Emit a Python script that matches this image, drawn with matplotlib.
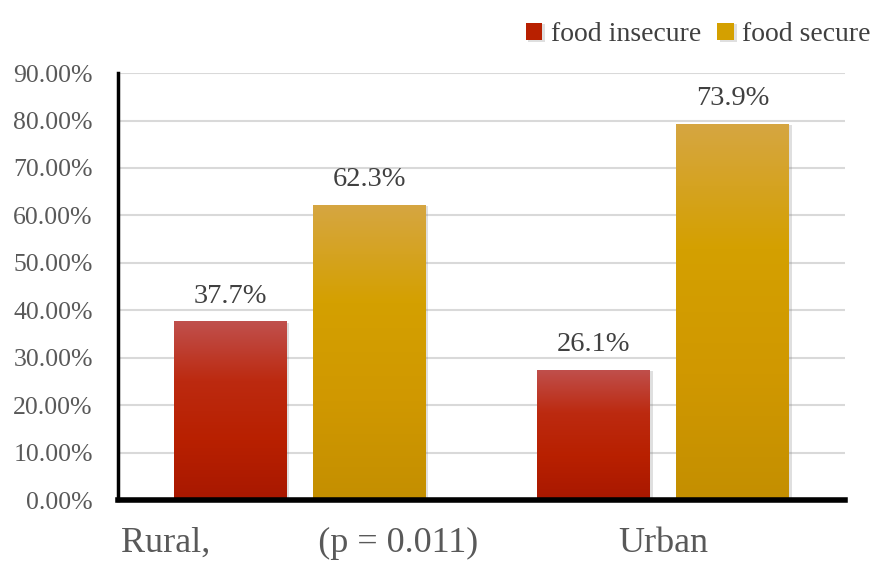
import matplotlib.pyplot as plt
import matplotlib.patheffects as pe
import numpy as np
from matplotlib.colors import LinearSegmentedColormap

plt.rcParams['font.family'] = ['Liberation Serif', 'DejaVu Serif']

# data
categories = ['Rural,            (p = 0.011)', 'Urban']
series_names = ['food insecure', 'food secure']
insecure = [0.377, 0.275]
secure = [0.623, 0.793]
insecure_labels = ['37.7%', '26.1%']
secure_labels = ['62.3%', '73.9%']
yticks = [0.0, 0.1, 0.2, 0.3, 0.4, 0.5, 0.6, 0.7, 0.8, 0.9]

red_grad = LinearSegmentedColormap.from_list('r', ['#A81800', '#B82000', '#BC2A10', '#C0504D'])
gold_grad = LinearSegmentedColormap.from_list('g', ['#C48F00', '#D09800', '#D4A000', '#D6A642'])

fig = plt.figure(figsize=(8.73, 5.62), dpi=100)
ax = fig.add_axes([0.135, 0.110, 0.833, 0.760])

x = np.arange(len(categories))
w = 0.31
off = 0.191

def grad_bars(xs, vals, color, cmap, labels):
    bars = ax.bar(xs, vals, w, color=color, zorder=3,
                  path_effects=[pe.SimplePatchShadow(offset=(2, -1), shadow_rgbFace='gray', alpha=0.25), pe.Normal()])
    for b, lab in zip(bars, labels):
        x0, y0 = b.get_x(), b.get_y()
        x1, y1 = x0 + b.get_width(), y0 + b.get_height()
        g = np.linspace(0, 1, 256).reshape(-1, 1)
        im = ax.imshow(g, cmap=cmap, aspect='auto', origin='lower',
                       extent=(x0, x1, y0, y1), zorder=4)
        im.set_clip_path(b)
        ax.annotate(lab, (b.get_x() + b.get_width() / 2, y1), xytext=(0, 18),
                    textcoords='offset points', ha='center', va='center',
                    fontsize=20.5, color='#404040')
    return bars

b1 = grad_bars(x - off, insecure, '#B82000', red_grad, insecure_labels)
b2 = grad_bars(x + off, secure, '#D4A000', gold_grad, secure_labels)

ax.set_xlim(-0.5, 1.5)
ax.set_ylim(0, 0.9)
ax.set_yticks(yticks)
ax.set_yticklabels(['%.2f%%' % (v * 100) for v in yticks])
ax.set_xticks(x)
ax.set_xticklabels(categories)
ax.tick_params(axis='y', length=0, pad=18, labelsize=18.5, labelcolor='#595959')
ax.tick_params(axis='x', length=0, pad=19, labelsize=26, labelcolor='#595959')
ax.yaxis.grid(True, color='#D9D9D9', linewidth=1.5, zorder=0)
ax.set_axisbelow(True)
for s in ['top', 'right']:
    ax.spines[s].set_visible(False)
ax.spines['left'].set_linewidth(2.5)
ax.spines['bottom'].set_linewidth(4)
ax.spines['left'].set_zorder(5)
ax.spines['bottom'].set_zorder(5)

ax.legend([b1[0], b2[0]], series_names, loc='center right', bbox_to_anchor=(1.07, 1.09),
          ncol=2, frameon=False, fontsize=20, handlelength=0.6, handleheight=0.6,
          handletextpad=0.3, columnspacing=0.6, labelcolor='#404040')

fig.savefig('out.png', dpi=100)
